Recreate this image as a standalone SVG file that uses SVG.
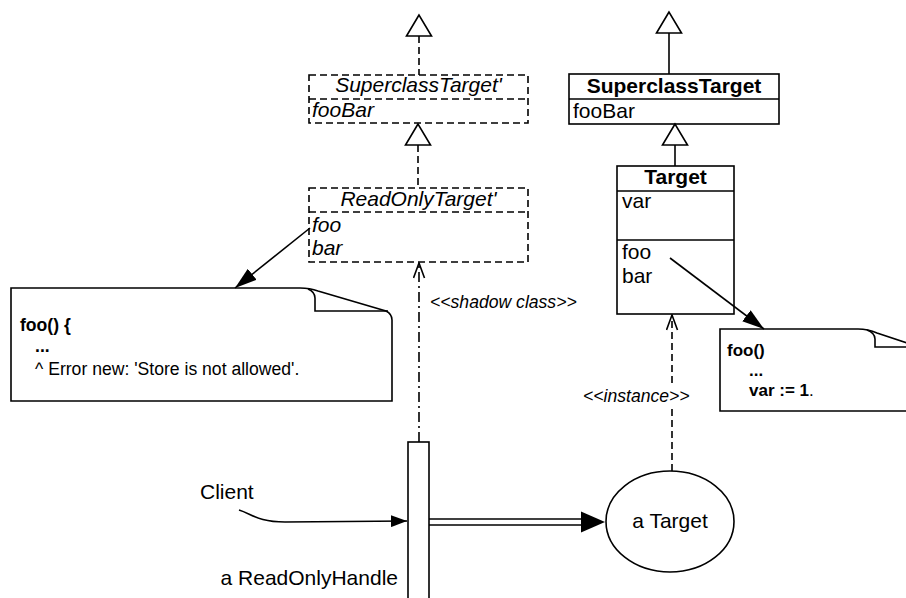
<svg xmlns="http://www.w3.org/2000/svg" width="906" height="598" viewBox="0 0 906 598">
<style>
  .ln{fill:none;stroke:#000;stroke-width:1.6}
  .box{fill:#fff;stroke:#000;stroke-width:1.6}
  .dbox{fill:#fff;stroke:#000;stroke-width:1.6;stroke-dasharray:7 4}
  .dash{fill:none;stroke:#000;stroke-width:1.6;stroke-dasharray:7 4}
  .dashdot{fill:none;stroke:#000;stroke-width:1.6;stroke-dasharray:10 4 2 4}
  .tri{fill:#fff;stroke:#000;stroke-width:1.6}
  text{font-family:"Liberation Sans",Arial,Helvetica,sans-serif;fill:#000}
  .u{font-size:21px}
  .it{font-style:italic}
  .b{font-weight:bold}
  .n{font-size:17.6px}
  .n2{font-size:17px}
  .lbl{font-size:17.6px;font-style:italic}
</style>
<defs>
  <marker id="fa" viewBox="0 0 22 14" refX="22" refY="7" markerWidth="22" markerHeight="14" markerUnits="userSpaceOnUse" orient="auto">
    <path d="M0,0 L22,7 L0,14 z" fill="#000"/>
  </marker>
  <marker id="fs" viewBox="0 0 16 12" refX="16" refY="6" markerWidth="16" markerHeight="12" markerUnits="userSpaceOnUse" orient="auto">
    <path d="M0,0 L16,6 L0,12 z" fill="#000"/>
  </marker>
  <marker id="oa" viewBox="0 0 17 13" refX="16" refY="6.5" markerWidth="17" markerHeight="13" markerUnits="userSpaceOnUse" orient="auto">
    <path d="M1,1 L16,6.5 L1,12" fill="none" stroke="#000" stroke-width="1.6"/>
  </marker>
</defs>

<g id="superclassTargetShadow">
  <rect class="dbox" x="309" y="75" width="219" height="48"/>
  <line class="dash" x1="309" y1="99" x2="528" y2="99"/>
  <text class="u it" x="418.5" y="92" text-anchor="middle">SuperclassTarget'</text>
  <text class="u it" x="312" y="117">fooBar</text>
</g>

<g id="readOnlyTargetShadow">
  <rect class="dbox" x="309" y="188" width="219" height="74"/>
  <line class="dash" x1="309" y1="212" x2="528" y2="212"/>
  <text class="u it" x="418.5" y="206" text-anchor="middle">ReadOnlyTarget'</text>
  <text class="u it" x="312" y="232">foo</text>
  <text class="u it" x="312" y="255">bar</text>
</g>

<g id="superclassTarget">
  <rect class="box" x="569" y="74" width="210" height="50"/>
  <line class="ln" x1="569" y1="99" x2="779" y2="99"/>
  <text class="u b" x="674" y="93" text-anchor="middle">SuperclassTarget</text>
  <text class="u" x="573" y="118">fooBar</text>
</g>

<g id="target">
  <rect class="box" x="617" y="166" width="117" height="148"/>
  <line class="ln" x1="617" y1="191" x2="734" y2="191"/>
  <line class="ln" x1="617" y1="240" x2="734" y2="240"/>
  <text class="u b" x="675.5" y="184" text-anchor="middle">Target</text>
  <text class="u" x="622" y="208">var</text>
  <text class="u" x="622" y="259">foo</text>
  <text class="u" x="622" y="283">bar</text>
</g>

<g id="noteReadOnly">
  <path class="box" d="M11,288 H300 Q310,288 318,291 L386,311 Q392,314 392,320 V401 H11 Z"/>
  <path class="ln" d="M308,289 Q315,292 315,298 V311 H388"/>
  <text class="n b" x="20" y="331">foo() {</text>
  <text class="n b" x="35" y="352">...</text>
  <text class="n" x="35" y="375">^ Error new: 'Store is not allowed'.</text>
</g>

<g id="noteTarget">
  <path class="box" d="M720,329 H858 Q868,329 877,333 L913,345 Q918,348 918,354 V411 H720 Z"/>
  <path class="ln" d="M867,330 Q875,333 875,339 V347 H915"/>
  <text class="n2 b" x="727" y="356">foo()</text>
  <text class="n2 b" x="749" y="376">...</text>
  <text class="n2" x="749" y="396"><tspan class="b">var := 1</tspan>.</text>
</g>

<g id="readOnlyHandle">
  <rect class="box" x="408" y="442" width="21" height="170"/>
  <text class="u" x="398" y="585" text-anchor="end">a ReadOnlyHandle</text>
</g>

<g id="client">
  <text class="u" x="200" y="499">Client</text>
</g>

<g id="aTarget">
  <ellipse class="box" cx="670" cy="521.5" rx="64" ry="50.5"/>
  <text class="u" x="670" y="528" text-anchor="middle">a Target</text>
</g>

<g id="connectors">
  <line class="dash" x1="419" y1="36" x2="419" y2="75"/>
  <polygon class="tri" points="419,15 406.5,36 431.5,36"/>
  <line class="dash" x1="418" y1="145" x2="418" y2="188"/>
  <polygon class="tri" points="418,124 405.5,145 430.5,145"/>
  <line class="ln" x1="669" y1="33" x2="669" y2="74"/>
  <polygon class="tri" points="669,12 656.5,33 681.5,33"/>
  <line class="ln" x1="675" y1="145" x2="675" y2="166"/>
  <polygon class="tri" points="675,124 662.5,145 687.5,145"/>
  <line class="ln" x1="310" y1="228" x2="235" y2="288" marker-end="url(#fa)"/>
  <line class="ln" x1="670" y1="258" x2="764" y2="329" marker-end="url(#fa)"/>
  <line class="dashdot" x1="419" y1="442" x2="419" y2="263" marker-end="url(#oa)"/>
  <line class="dash" x1="672" y1="471" x2="672" y2="315" marker-end="url(#oa)"/>
  <path class="ln" d="M239,510 C252,514 258,522 285,522 L407,521" marker-end="url(#fs)"/>
  <line class="ln" x1="429" y1="519" x2="583" y2="519"/>
  <line class="ln" x1="429" y1="525" x2="583" y2="525"/>
  <polygon points="581,511.5 605,522 581,532.5" fill="#000"/>
</g>

<g id="labels">
  <text class="lbl" x="430" y="308">&lt;&lt;shadow class&gt;&gt;</text>
  <rect x="584" y="386" width="106" height="20" fill="#fff"/>
  <text class="lbl" x="583" y="402">&lt;&lt;instance&gt;&gt;</text>
</g>
</svg>
